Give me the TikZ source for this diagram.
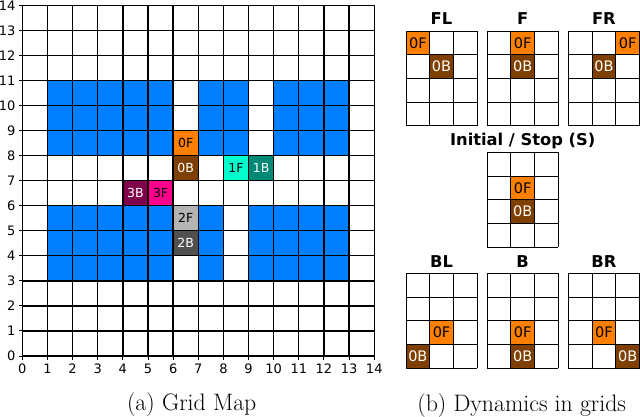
\documentclass[tikz,border=0pt]{standalone}
\usepackage{fontspec}
\newfontfamily\dv{DejaVu Sans}
\definecolor{obs}{RGB}{0,127,255}
\definecolor{orF}{RGB}{255,127,0}
\definecolor{brB}{RGB}{127,63,0}
\definecolor{cyF}{RGB}{0,255,204}
\definecolor{tlB}{RGB}{0,136,119}
\definecolor{grF}{RGB}{180,180,180}
\definecolor{grB}{RGB}{80,80,80}
\definecolor{pkF}{RGB}{255,0,140}
\definecolor{mgB}{RGB}{128,0,76}
\tikzset{
  mapline/.style={line width=1.3pt,black},
  smallline/.style={line width=0.9pt,black},
  agent/.style={inner sep=0pt,font=\dv\fontsize{12.5}{13}\selectfont},
  sagent/.style={inner sep=0pt,font=\dv\fontsize{14.5}{15}\selectfont},
  ticklab/.style={inner sep=0pt,font=\dv\fontsize{13}{14}\selectfont},
  paneltitle/.style={inner sep=0pt,font=\dv\bfseries\fontsize{16.3}{18}\selectfont},
  caption/.style={inner sep=0pt,font=\fontsize{23.8}{26}\selectfont}
}
\begin{document}
\begin{tikzpicture}[x=1pt,y=-1pt]
\useasboundingbox (0,0) rectangle (640,416);
\fill[white] (0,0) rectangle (640,416);
% ---------- grid map ----------
\begin{scope}[shift={(22.3,356)},x=25.14pt,y=25.05pt]
  \fill[obs] (1,8) rectangle (6,11);
  \fill[obs] (7,8) rectangle (9,11);
  \fill[obs] (10,8) rectangle (13,11);
  \fill[obs] (1,3) rectangle (6,6);
  \fill[obs] (7,3) rectangle (8,6);
  \fill[obs] (9,3) rectangle (13,6);
  \foreach \n/\x/\y/\c/\tc in {0F/6/8/orF/black,0B/6/7/brB/white,1F/8/7/cyF/black,1B/9/7/tlB/white,2F/6/5/grF/black,2B/6/4/grB/white,3F/5/6/pkF/black,3B/4/6/mgB/white}{
    \fill[\c] (\x,\y) rectangle (\x+1,\y+1);
    \node[agent,text=\tc] (m\n) at (\x+0.5,\y+0.5) {\n};
  }
  \foreach \i in {0,...,14}{
    \draw[mapline] (\i,0) -- (\i,14);
    \draw[mapline] (0,\i) -- (14,\i);
    \draw[line width=1pt] (\i,0) -- (\i,-0.15);
    \draw[line width=1pt] (0,\i) -- (-0.15,\i);
    \node[ticklab] (xl\i) at (\i,-0.5) {\i};
    \node[ticklab,anchor=east] (yl\i) at (-0.27,\i) {\i};
  }
\end{scope}
% ---------- dynamics panels ----------
\foreach \nm/\lx/\ty/\fc/\fr/\bc/\br in {FL/406/31/0/0/1/1,F/487.2/31/1/0/1/1,FR/568.4/31/2/0/1/1,S/487.2/152.3/1/1/1/2,BL/406/273.3/1/2/0/3,B/487.2/273.3/1/2/1/3,BR/568.4/273.3/1/2/2/3}{
  \begin{scope}[shift={(\lx,\ty)},x=23.7pt,y=-23.7pt]
    \fill[orF] (\fc,\fr) rectangle (\fc+1,\fr+1);
    \fill[brB] (\bc,\br) rectangle (\bc+1,\br+1);
    \node[sagent,text=black] (\nm-f) at (\fc+0.5,\fr+0.5) {0F};
    \node[sagent,text=white] (\nm-b) at (\bc+0.5,\br+0.5) {0B};
    \foreach \i in {0,...,3}{\draw[smallline] (\i,0) -- (\i,4);}
    \foreach \j in {0,...,4}{\draw[smallline] (0,\j) -- (3,\j);}
  \end{scope}
}
\node[paneltitle] (tFL) at (441.5,19) {FL};
\node[paneltitle] (tF) at (522.7,19) {F};
\node[paneltitle] (tFR) at (603.9,19) {FR};
\node[paneltitle] (tS) at (522.7,141) {Initial / Stop (S)};
\node[paneltitle] (tBL) at (441.5,262) {BL};
\node[paneltitle] (tB) at (522.7,262) {B};
\node[paneltitle] (tBR) at (603.9,262) {BR};
% ---------- captions ----------
\node[caption] (capa) at (191.7,405) {(a) Grid Map};
\node[caption] (capb) at (521.7,405.5) {(b) Dynamics in grids};
\end{tikzpicture}
\end{document}
